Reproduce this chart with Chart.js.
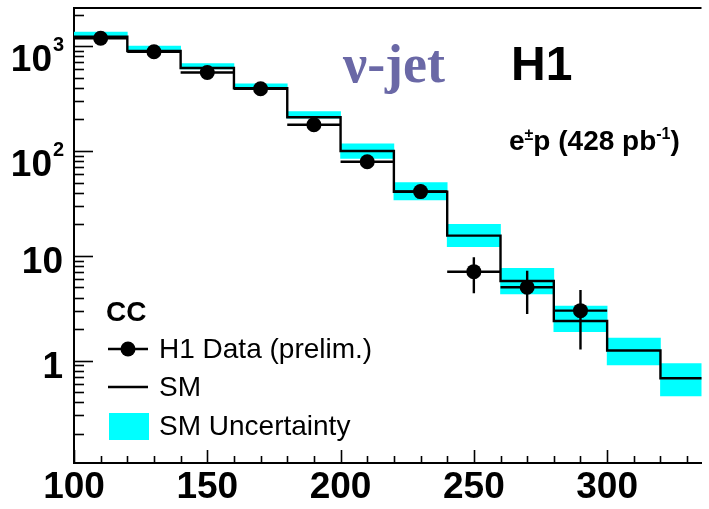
<!DOCTYPE html>
<html><head><meta charset="utf-8">
<script src="https://cdn.jsdelivr.net/npm/chart.js@4.4.0/dist/chart.umd.min.js"></script>
<style>html,body{margin:0;padding:0;background:#fff;overflow:hidden}</style>
</head><body>
<canvas id="c" width="709" height="509" style="width:709px;height:509px;display:block"></canvas>
<script>
// ---- data ----
const binLow  = [100,120,140,160,180,200,220,240,260,280,300,320];
const binHigh = [120,140,160,180,200,220,240,260,280,300,320,340];
const smValues  = [1230, 899, 619, 396, 210, 100, 40.9, 15.6, 5.75, 2.39, 1.25, 0.68];
const smUncLow  = [1200, 880, 606, 386, 206, 85, 34.1, 12.2, 4.33, 1.89, 0.91, 0.46];
const smUncHigh = [1365, 1003, 683, 436, 237, 117, 49.9, 20.0, 7.61, 3.32, 1.64, 0.94];
const dataX      = [110, 130, 150, 170, 190, 210, 230, 250, 270, 290];
const dataY      = [1188, 885, 561, 392, 178, 79, 41, 7.06, 5.01, 3.0];
const dataErrLow = [1150, 855, 540, 375, 166, 72, 35, 4.39, 2.79, 1.28];
const dataErrHigh= [1228, 915, 583, 410, 190, 86, 48, 9.69, 7.22, 4.72];
const xTickLabels = [100, 150, 200, 250, 300];
const yTickValues = [1, 10, 100, 1000];
const yTickBase   = ['1', '10', '10', '10'];
const yTickSup    = ['', '', '2', '3'];

const CYAN = '#00ffff';
const SANS = '"Liberation Sans", Arial, Helvetica, sans-serif';
const LW = 2.4;

const innerTicks = {
  id: 'innerTicks',
  afterDraw(chart) {
    const c = chart.ctx, a = chart.chartArea;
    const xs = chart.scales.x, ys = chart.scales.y;
    c.save();
    c.strokeStyle = '#000'; c.lineWidth = 2;
    // top frame line
    c.beginPath(); c.moveTo(a.left - 1, a.top); c.lineTo(a.right, a.top); c.stroke();
    c.lineWidth = 1.6;
    // x ticks (inside)
    for (let v = 100; v <= xs.max; v += 10) {
      const px = Math.round(xs.getPixelForValue(v)) + 0.5;
      const len = (v % 50 === 0) ? 13 : 7;
      c.beginPath(); c.moveTo(px, a.bottom); c.lineTo(px, a.bottom - len); c.stroke();
    }
    // y ticks (inside)
    for (let d = -1; d <= 3; d++) {
      for (let k = 1; k <= 9; k++) {
        const v = k * Math.pow(10, d);
        if (v < ys.min || v > ys.max) continue;
        const py = Math.round(ys.getPixelForValue(v)) + 0.5;
        const len = (k === 1) ? 19 : 10;
        c.beginPath(); c.moveTo(a.left, py); c.lineTo(a.left + len, py); c.stroke();
      }
    }
    // y labels with superscripts
    c.fillStyle = '#000';
    c.textBaseline = 'alphabetic';
    yTickValues.forEach((v, i) => {
      const py = ys.getPixelForValue(v);
      if (yTickSup[i]) {
        c.font = 'bold 37px ' + SANS; c.textAlign = 'right';
        c.fillText(yTickBase[i], 52, py + 25);
        c.font = 'bold 20px ' + SANS; c.textAlign = 'left';
        c.fillText(yTickSup[i], 53, py + 5);
      } else {
        c.font = 'bold 37px ' + SANS; c.textAlign = 'right';
        c.fillText(yTickBase[i], 63, py + 17);
      }
    });
    c.restore();
  }
};

const errorBars = {
  id: 'errorBars',
  afterDatasetsDraw(chart) {
    const c = chart.ctx, xs = chart.scales.x, ys = chart.scales.y;
    c.save();
    c.strokeStyle = '#000'; c.lineWidth = LW;
    dataX.forEach((x, i) => {
      const y = ys.getPixelForValue(dataY[i]);
      c.beginPath();
      c.moveTo(xs.getPixelForValue(binLow[i]), y);
      c.lineTo(xs.getPixelForValue(binHigh[i]), y);
      const px = xs.getPixelForValue(x);
      c.moveTo(px, ys.getPixelForValue(dataErrLow[i]));
      c.lineTo(px, ys.getPixelForValue(dataErrHigh[i]));
      c.stroke();
    });
    c.restore();
  }
};

const annotations = {
  id: 'annotations',
  afterDraw(chart) {
    const c = chart.ctx;
    c.save();
    c.textBaseline = 'alphabetic'; c.textAlign = 'left';
    // nu-jet
    c.fillStyle = '#6a68a6';
    c.font = 'bold 54px "Liberation Serif", "Times New Roman", serif';
    c.fillText('ν-jet', 343, 82);
    // H1
    c.fillStyle = '#000';
    c.font = 'bold 48px ' + SANS;
    c.fillText('H1', 511, 80);
    // e±p (428 pb-1)
    let x = 509; const base = 150;
    const big = 'bold 28px ' + SANS, small = 'bold 16px ' + SANS;
    const parts = [['e', big, 0], ['±', small, -10], ['p (428 pb', big, 0], ['-1', small, -11], [')', big, 0]];
    parts.forEach(([t, f, dy]) => { c.font = f; c.fillText(t, x, base + dy); x += c.measureText(t).width; });
    // legend
    c.textBaseline = 'middle';
    c.font = 'bold 28px ' + SANS;
    c.fillText('CC', 106, 313);
    c.font = '28px ' + SANS;
    c.strokeStyle = '#000'; c.lineWidth = LW;
    c.beginPath(); c.moveTo(108, 349); c.lineTo(148, 349); c.stroke();
    c.beginPath(); c.arc(128, 349, 7.5, 0, Math.PI * 2); c.fill();
    c.fillText('H1 Data (prelim.)', 159, 350);
    c.beginPath(); c.moveTo(108, 387); c.lineTo(148, 387); c.stroke();
    c.fillText('SM', 159, 388);
    c.fillStyle = CYAN; c.fillRect(109, 413, 40, 27);
    c.fillStyle = '#000';
    c.fillText('SM Uncertainty', 159, 427);
    c.restore();
  }
};

const n = binLow.length;
new Chart(document.getElementById('c'), {
  type: 'bar',
  data: {
    datasets: [
      {
        type: 'scatter', label: 'H1 Data (prelim.)',
        data: dataX.map((x, i) => ({ x, y: dataY[i] })),
        pointRadius: 7.5, pointHoverRadius: 7.5, pointBackgroundColor: '#000', pointBorderWidth: 0,
        order: 0
      },
      {
        type: 'line', label: 'SM',
        data: binLow.map((x, i) => ({ x, y: smValues[i] })).concat([{ x: binHigh[n - 1], y: smValues[n - 1] }]),
        stepped: 'before', borderColor: '#000', borderWidth: LW, pointRadius: 0, fill: false,
        order: 1
      },
      {
        type: 'bar', label: 'SM Uncertainty',
        data: binLow.map((x, i) => ({ x: (x + binHigh[i]) / 2, y: [smUncLow[i], smUncHigh[i]] })),
        backgroundColor: CYAN, borderWidth: 0, barPercentage: 1, categoryPercentage: 1,
        order: 2
      }
    ]
  },
  options: {
    responsive: false, animation: false, devicePixelRatio: 1,
    layout: { padding: { top: 8, left: 0, right: 0, bottom: 0 } },
    plugins: { legend: { display: false }, tooltip: { enabled: false } },
    scales: {
      x: {
        type: 'linear', min: 100, max: 335.4, offset: false,
        grid: { display: false, drawTicks: false },
        border: { display: true, color: '#000', width: 2 },
        ticks: { color: '#000', font: { family: SANS, weight: 'bold', size: 37 }, padding: 3, maxRotation: 0, autoSkip: false },
        afterBuildTicks: s => { s.ticks = xTickLabels.map(v => ({ value: v })); },
        afterFit: s => { s.height = 46; }
      },
      y: {
        type: 'logarithmic', min: 0.1057, max: 2310,
        grid: { display: false, drawTicks: false },
        border: { display: true, color: '#000', width: 2 },
        ticks: { display: false },
        afterFit: s => { s.width = 74; }
      }
    }
  },
  plugins: [errorBars, innerTicks, annotations]
});
</script>
</body></html>
